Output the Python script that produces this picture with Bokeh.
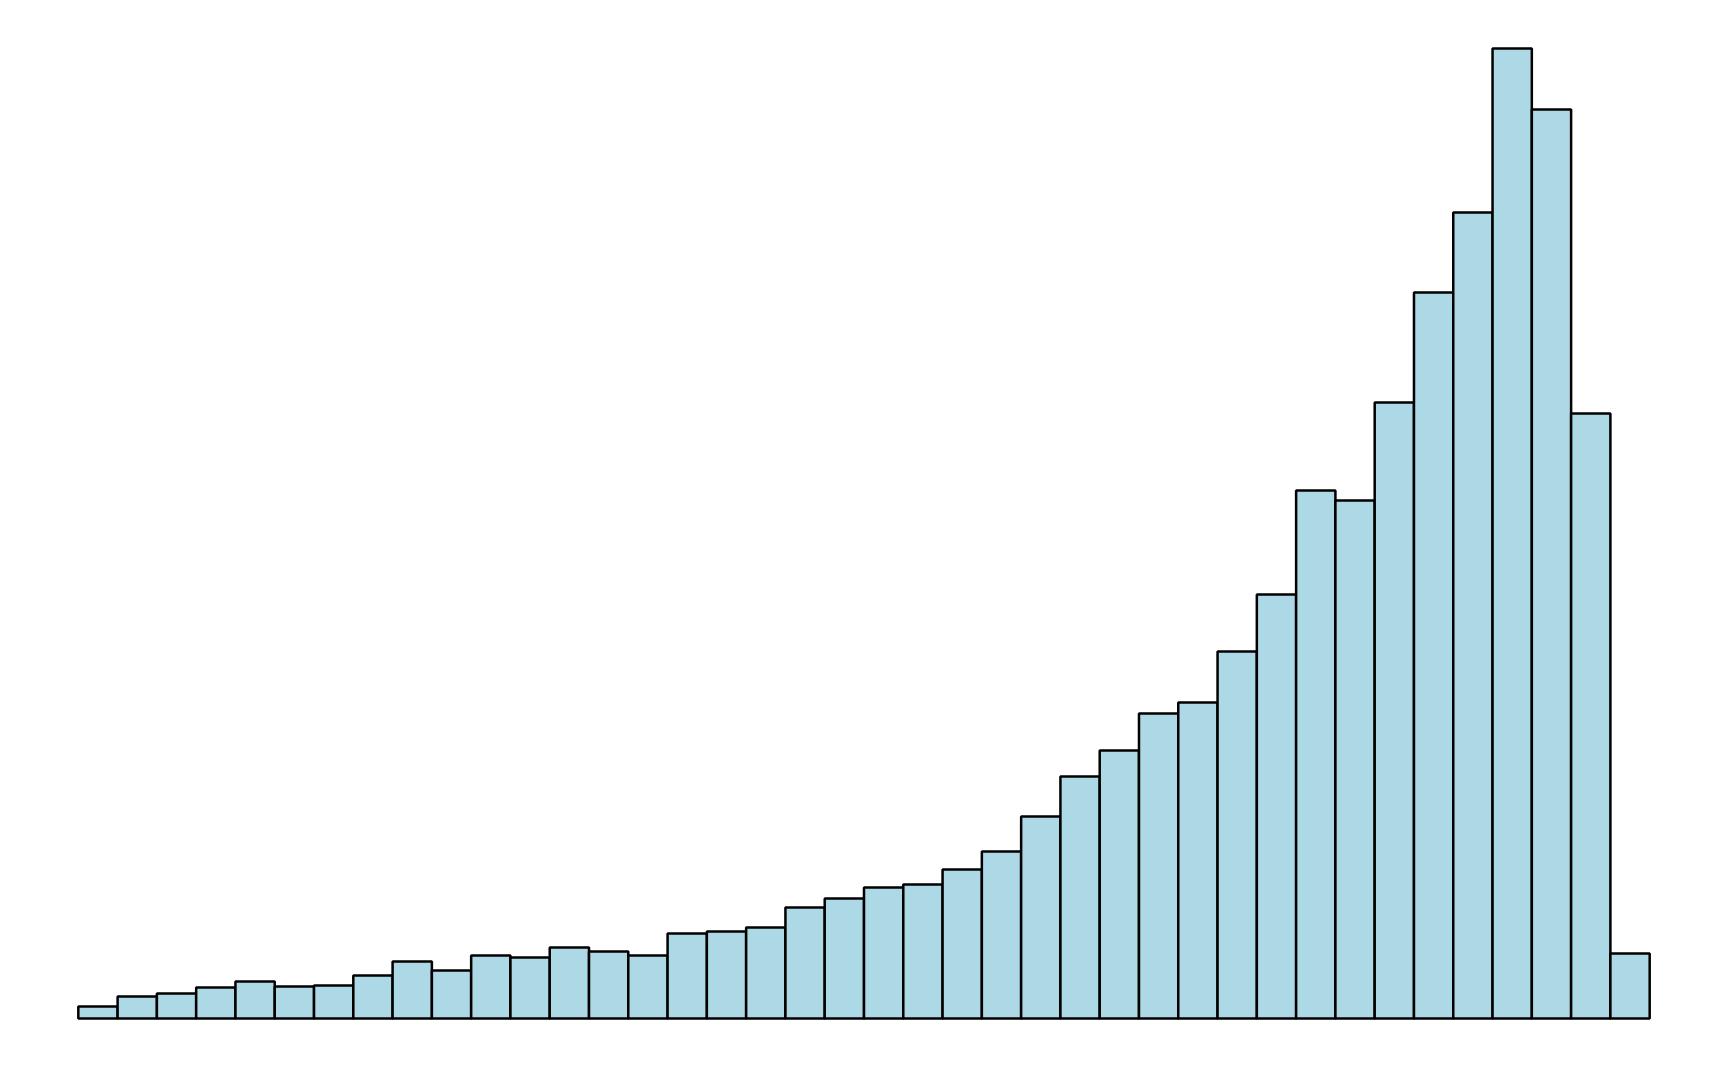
from bokeh.plotting import figure
from bokeh.models import Range1d, ColumnDataSource
from bokeh.embed import file_html
from bokeh.resources import INLINE

# Histogram counts (40 bins)
counts = [12, 22, 25, 31, 37, 32, 33, 43, 57, 48,
          63, 61, 71, 67, 63, 85, 87, 91, 111, 120,
          131, 134, 149, 167, 202, 242, 268, 305, 316, 367,
          424, 528, 518, 616, 726, 806, 970, 909, 605, 65]
bin_left = list(range(40))
bin_right = [b + 1 for b in bin_left]

src = ColumnDataSource(dict(left=bin_left, right=bin_right, top=counts,
                            bottom=[0] * len(counts)))

p = figure(width=1712, height=1051, output_backend="svg", toolbar_location=None,
           x_range=Range1d(-0.25, 40.25), y_range=Range1d(-10, 990),
           min_border_left=68, min_border_right=53,
           min_border_top=28, min_border_bottom=23)
p.quad(left="left", right="right", top="top", bottom="bottom", source=src,
       fill_color="#ADD8E6", line_color="black", line_width=2.5)
p.axis.visible = False
p.xgrid.visible = False
p.ygrid.visible = False
p.outline_line_color = None
p.background_fill_color = "white"
p.border_fill_color = "white"

open("out.html", "w").write(file_html(p, INLINE))
